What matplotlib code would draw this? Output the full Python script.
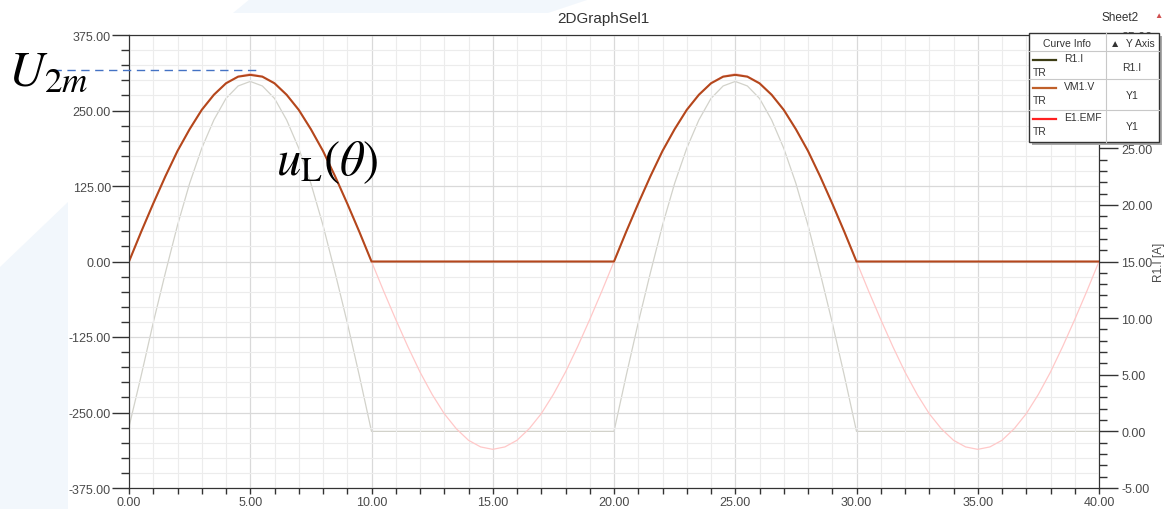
import matplotlib
matplotlib.use('Agg')
import matplotlib.pyplot as plt
from matplotlib.ticker import MultipleLocator, FormatStrFormatter
from matplotlib.patches import Polygon, Rectangle

plt.rcParams['font.family'] = ['Liberation Sans', 'DejaVu Sans']
plt.rcParams['mathtext.fontset'] = 'stix'

# time axis (sample grid, step 0.5)
t = [i * 0.5 for i in range(81)]

# VM1.V  load voltage (left axis)
vm1_v = [0, 49, 96, 141, 183, 219, 251, 276, 295, 306, 309, 306, 295, 276, 251, 219, 183, 141, 96, 49, 0,
         0, 0, 0, 0, 0, 0, 0, 0, 0, 0, 0, 0, 0, 0, 0, 0, 0, 0, 0, 0,
         49, 96, 141, 183, 219, 251, 276, 295, 306, 309, 306, 295, 276, 251, 219, 183, 141, 96, 49, 0,
         0, 0, 0, 0, 0, 0, 0, 0, 0, 0, 0, 0, 0, 0, 0, 0, 0, 0, 0, 0]

# E1.EMF  source (left axis)
e1_emf = [0, 49, 96, 141, 183, 220, 252, 277, 296, 307, 311, 307, 296, 277, 252, 220, 183, 141, 96, 49, 0,
          -49, -96, -141, -183, -220, -252, -277, -296, -307, -311, -307, -296, -277, -252, -220, -183, -141, -96, -49, 0,
          49, 96, 141, 183, 220, 252, 277, 296, 307, 311, 307, 296, 277, 252, 220, 183, 141, 96, 49, 0,
          -49, -96, -141, -183, -220, -252, -277, -296, -307, -311, -307, -296, -277, -252, -220, -183, -141, -96, -49, 0]

# R1.I  current (right axis)
r1_i = [0.4, 4.9, 9.6, 14.0, 18.2, 21.9, 25.0, 27.5, 29.4, 30.5, 30.9, 30.5, 29.4, 27.5, 25.0, 21.9, 18.2, 14.0, 9.6, 4.9, 0,
        0, 0, 0, 0, 0, 0, 0, 0, 0, 0, 0, 0, 0, 0, 0, 0, 0, 0, 0, 0,
        4.9, 9.6, 14.0, 18.2, 21.9, 25.0, 27.5, 29.4, 30.5, 30.9, 30.5, 29.4, 27.5, 25.0, 21.9, 18.2, 14.0, 9.6, 4.9, 0,
        0, 0, 0, 0, 0, 0, 0, 0, 0, 0, 0, 0, 0, 0, 0, 0, 0, 0, 0, 0]

legend_names = ['R1.I', 'VM1.V', 'E1.EMF']
legend_axes = ['R1.I', 'Y1', 'Y1']
legend_colors = ['#3c3c14', '#c0602a', '#ff2020']

W, H = 1167, 510
fig = plt.figure(figsize=(W / 100, H / 100), dpi=100)

# slide background shapes
bg = fig.add_axes([0, 0, 1, 1], zorder=-5)
bg.set_xlim(0, W)
bg.set_ylim(H, 0)
bg.axis('off')
bg.add_patch(Polygon([(233, 14), (250, 0), (590, 0), (548, 14)], color='#f2f7fc', lw=0))
bg.add_patch(Polygon([(0, 268), (68, 203), (68, 510), (0, 510)], color='#f2f7fc', lw=0))

ax = fig.add_axes([129 / W, 1 - 489 / H, 970 / W, 453 / H])
ax2 = ax.twinx()
ax.set_zorder(ax2.get_zorder() + 1)
ax.patch.set_visible(False)
ax2.set_facecolor('white')

ax2.plot(t, r1_i, color='#d2d2ca', lw=0.9)
ax.plot(t, e1_emf, color='#ffc8c8', lw=0.9)
ax.plot(t, vm1_v, color='#b4471c', lw=1.5)

ax.set_xlim(0, 40)
ax.set_ylim(-375, 375)
ax2.set_ylim(-5, 35)

ax.xaxis.set_major_locator(MultipleLocator(5))
ax.xaxis.set_minor_locator(MultipleLocator(1))
ax.yaxis.set_major_locator(MultipleLocator(125))
ax.yaxis.set_minor_locator(MultipleLocator(25))
ax2.yaxis.set_major_locator(MultipleLocator(5))
ax2.yaxis.set_minor_locator(MultipleLocator(1))
for a in (ax.xaxis, ax.yaxis):
    a.set_major_formatter(FormatStrFormatter('%.2f'))
# the 30.00 label sits fully under the curve-info box
ax2.yaxis.set_major_formatter(lambda v, p: '' if abs(v - 30) < 1e-6 else f'{v:.2f}')

ax.grid(which='major', color='#d9d9d9', lw=0.9)
ax.grid(which='minor', color='#ececec', lw=0.8)
ax.set_axisbelow(True)

lab = dict(labelsize=9, labelcolor='#4a4a4a', color='#333333')
ax.tick_params(axis='y', which='major', length=12, width=1, pad=1, **lab)
ax.tick_params(axis='y', which='minor', length=6, width=1, color='#333333')
ax.tick_params(axis='x', which='major', length=4, width=1, pad=2, **lab)
ax.tick_params(axis='x', which='minor', length=4, width=1, color='#333333')
ax2.tick_params(axis='y', which='major', length=14, width=1, pad=2, **lab)
ax2.tick_params(axis='y', which='minor', length=6, width=1, color='#333333')
for a in (ax, ax2):
    for s in a.spines.values():
        s.set_color('#333333')
ax2.set_ylabel('R1.I [A]', fontsize=8.5, color='#4a4a4a', labelpad=0)

# overlay for titles, annotations and curve-info box
ov = fig.add_axes([0, 0, 1, 1], zorder=10)
ov.set_xlim(0, W)
ov.set_ylim(H, 0)
ov.axis('off')
ov.patch.set_visible(False)

ov.text(603, 19, '2DGraphSel1', fontsize=11, color='#333333', ha='center', va='center')
ov.text(1120, 18, 'Sheet2', fontsize=8.5, color='#333333', ha='center', va='center')
ov.text(1158, 16, '\u25B2', fontsize=6, color='#d05050', ha='center', va='center')

ov.plot([53, 256], [71, 71], color='#4472c4', lw=1, ls=(0, (6, 4)))
ov.text(8, 85, '$U_{2m}$', fontsize=36, color='black', ha='left', va='baseline')
ov.text(276, 175, r'$u_{\mathrm{L}}(\theta)$', fontsize=35, color='black', ha='left', va='baseline')

# curve info box
ov.add_patch(Rectangle((1032, 37), 130, 109, color='#a8a8a8', lw=0))
ov.add_patch(Rectangle((1029, 34), 130, 109, facecolor='white', edgecolor='#333333', lw=1))
for y in (52, 80, 111):
    ov.plot([1029, 1159], [y, y], color='#c8c8c8', lw=0.8)
ov.plot([1106, 1106], [34, 143], color='#c8c8c8', lw=0.8)
ov.text(1067, 44, 'Curve Info', fontsize=7.5, color='#333333', ha='center', va='center')
ov.text(1132, 44, '\u25B2  Y Axis', fontsize=7.5, color='#333333', ha='center', va='center')
row_y = [52, 80, 111]
for k in range(3):
    y0 = row_y[k]
    ov.plot([1033, 1056], [y0 + 9, y0 + 9], color=legend_colors[k], lw=1.6)
    ov.text(1064, y0 + 7, legend_names[k], fontsize=7.5, color='#333333', ha='left', va='center')
    ov.text(1033, y0 + 21, 'TR', fontsize=7.5, color='#333333', ha='left', va='center')
    ov.text(1132, y0 + 16, legend_axes[k], fontsize=7.5, color='#333333', ha='center', va='center')

fig.savefig('out.png', dpi=100, facecolor='white')
